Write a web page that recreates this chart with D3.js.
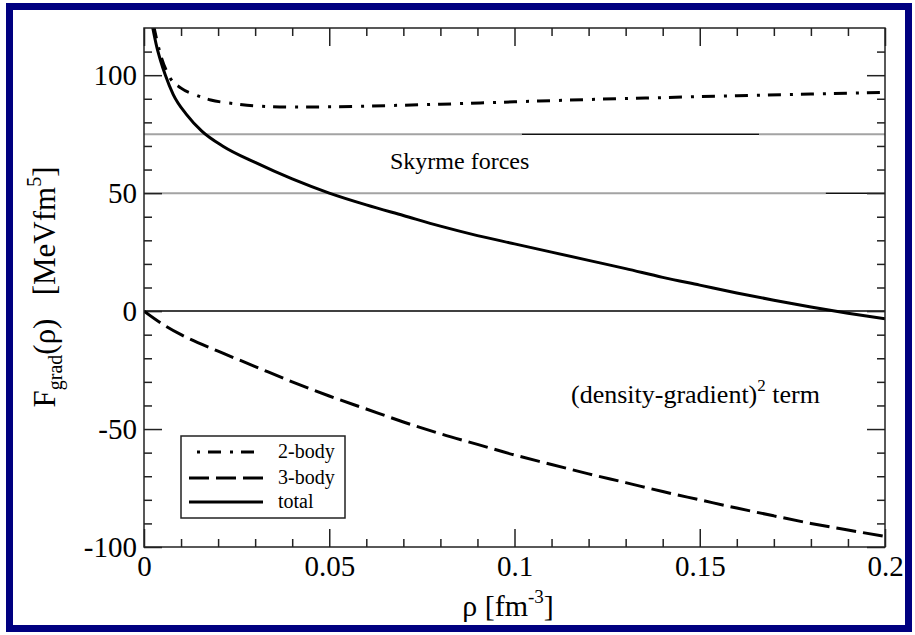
<!DOCTYPE html>
<html>
<head>
<meta charset="utf-8">
<script src="https://cdn.jsdelivr.net/npm/d3@7"></script>
<style>
  html, body { margin: 0; padding: 0; background: #fff; }
  svg { display: block; }
  svg text { font-family: "Liberation Serif", "Tinos", "Times New Roman", Times, "Nimbus Roman", "Nimbus Roman No9 L", FreeSerif, "DejaVu Serif", "Noto Serif", serif !important; fill: #000; }
</style>
</head>
<body>
<svg id="chart" width="915" height="635"></svg>
<script>
// ---------- data ----------
const rho2 = [0.0026, 0.0043, 0.007, 0.010, 0.014, 0.018, 0.024, 0.030, 0.040, 0.050, 0.060, 0.080, 0.100, 0.120, 0.140, 0.160, 0.180, 0.200];
const twoBody = [121, 109.6, 99, 94.5, 91.6, 89.5, 88, 87, 86.5, 86.6, 86.9, 87.7, 88.7, 89.7, 90.5, 91.3, 92.0, 92.7];

const rho3 = [0, 0.005, 0.010, 0.020, 0.030, 0.040, 0.050, 0.060, 0.070, 0.080, 0.090, 0.100, 0.110, 0.120, 0.130, 0.140, 0.150, 0.160, 0.170, 0.180, 0.190, 0.200];
const threeBody = [0, -5.5, -10, -17, -23.5, -30, -36, -41.5, -47, -52, -56.5, -61, -65, -69, -72.7, -76.5, -80, -83.5, -86.8, -90, -92.8, -95.5];

const rhoT = [0.00225, 0.0034, 0.0045, 0.0057, 0.0079, 0.0115, 0.0156, 0.0213, 0.030, 0.040, 0.050, 0.060, 0.070, 0.080, 0.090, 0.100, 0.110, 0.120, 0.130, 0.140, 0.150, 0.160, 0.170, 0.180, 0.190, 0.200];
const total = [121, 112.3, 106, 100.3, 91.8, 83.3, 76.3, 69.9, 63, 56, 50, 45, 40.5, 36, 32, 28.5, 25, 21.5, 18, 14.3, 11, 7.7, 4.6, 1.7, -0.9, -3.3];

// Skyrme-force reference levels (value, rho range, kind)
const skyrmeLevels = [75, 75, 75, 50, 50];
const skyrmeFrom   = [0, 0.102, 0.166, 0, 0.184];
const skyrmeTo     = [0.102, 0.166, 0.2, 0.184, 0.2];
const skyrmeKind   = ["gray", "black", "gray", "gray", "black"];

const xMajor = [0, 0.05, 0.1, 0.15, 0.2];
const xMinor = d3.range(1, 20).map(i => i / 100).filter(v => Math.abs(v * 20 - Math.round(v * 20)) > 1e-9);
const yMajor = [-100, -50, 0, 50, 100];
const yMinor = d3.range(-90, 121, 10).filter(v => v % 50 !== 0 && v < 120);

const legendLabels = ["2-body", "3-body", "total"];

// ---------- layout ----------
const FONT = '"Liberation Serif", Tinos, "Times New Roman", Times, "Nimbus Roman", FreeSerif, "DejaVu Serif", "Noto Serif", serif';
const svg = d3.select("#chart");
const L = 144, R = 885, T = 28, B = 547;
const x = d3.scaleLinear().domain([0, 0.2]).range([L, R]);
const y = d3.scaleLinear().domain([-100, 120]).range([B, T]);

// outer navy border
svg.append("rect").attr("x", 9.5).attr("y", 6.5).attr("width", 899).attr("height", 622)
  .attr("fill", "none").attr("stroke", "#000080").attr("stroke-width", 7);

svg.append("clipPath").attr("id", "plotclip").append("rect")
  .attr("x", L).attr("y", T).attr("width", R - L).attr("height", B - T);

// reference lines
const refG = svg.append("g");
refG.append("line").attr("x1", x(0)).attr("x2", x(0.2)).attr("y1", y(0)).attr("y2", y(0))
  .attr("stroke", "#000").attr("stroke-width", 1.5);
skyrmeLevels.forEach((v, i) => {
  refG.append("line")
    .attr("x1", x(skyrmeFrom[i])).attr("x2", x(skyrmeTo[i]))
    .attr("y1", y(v)).attr("y2", y(v))
    .attr("stroke", skyrmeKind[i] === "gray" ? "#a3a3a3" : "#111")
    .attr("stroke-width", skyrmeKind[i] === "gray" ? 2 : 1.5);
});

// axes (ticks inward on all four sides)
function styleAxis(g) {
  g.attr("font-family", FONT);
  g.select(".domain").remove();
  g.selectAll(".tick line").attr("stroke", "#222").attr("stroke-width", 1.5);
  g.selectAll("text").attr("font-family", FONT).attr("font-size", 29).attr("fill", "#000");
}
svg.append("g").attr("transform", `translate(0,${B})`)
  .call(d3.axisBottom(x).tickValues(xMajor).tickSize(-18).tickPadding(8).tickFormat(d => String(d)))
  .call(styleAxis)
  .selectAll("text").attr("dy", "0.71em");
svg.append("g").attr("transform", `translate(0,${B})`)
  .call(d3.axisBottom(x).tickValues(xMinor).tickSize(-8).tickFormat("")).call(styleAxis);
svg.append("g").attr("transform", `translate(0,${T})`)
  .call(d3.axisTop(x).tickValues(xMajor).tickSize(-18).tickFormat("")).call(styleAxis);
svg.append("g").attr("transform", `translate(0,${T})`)
  .call(d3.axisTop(x).tickValues(xMinor).tickSize(-8).tickFormat("")).call(styleAxis);

svg.append("g").attr("transform", `translate(${L},0)`)
  .call(d3.axisLeft(y).tickValues(yMajor).tickSize(-18).tickPadding(7).tickFormat(d => String(d)))
  .call(styleAxis);
svg.append("g").attr("transform", `translate(${L},0)`)
  .call(d3.axisLeft(y).tickValues(yMinor).tickSize(-8).tickFormat("")).call(styleAxis);
svg.append("g").attr("transform", `translate(${R},0)`)
  .call(d3.axisRight(y).tickValues(yMajor).tickSize(-18).tickFormat("")).call(styleAxis);
svg.append("g").attr("transform", `translate(${R},0)`)
  .call(d3.axisRight(y).tickValues(yMinor).tickSize(-8).tickFormat("")).call(styleAxis);

// curves
const line = d3.line().x(d => x(d[0])).y(d => y(d[1])).curve(d3.curveMonotoneX);
const curveG = svg.append("g").attr("clip-path", "url(#plotclip)");
const series = [
  { pts: d3.zip(rho2, twoBody), dash: "13,9,3,8" },
  { pts: d3.zip(rho3, threeBody), dash: "20,7" },
  { pts: d3.zip(rhoT, total), dash: null }
];
series.forEach(s => {
  curveG.append("path").attr("d", line(s.pts)).attr("fill", "none")
    .attr("stroke", "#000").attr("stroke-width", 3)
    .attr("stroke-dasharray", s.dash);
});

// frame
svg.append("rect").attr("x", L).attr("y", T).attr("width", R - L).attr("height", B - T)
  .attr("fill", "none").attr("stroke", "#222").attr("stroke-width", 1.5);

// annotations
svg.append("text").attr("x", 390).attr("y", 169).attr("font-family", FONT).attr("font-size", 24).text("Skyrme forces");
const ann = svg.append("text").attr("x", 571).attr("y", 403).attr("font-family", FONT).attr("font-size", 26);
ann.append("tspan").text("(density-gradient)");
ann.append("tspan").attr("font-size", 17).attr("dy", -12).text("2");
ann.append("tspan").attr("dy", 12).text("\u00a0term");

// axis titles
const xl = svg.append("text").attr("x", 508).attr("y", 616).attr("text-anchor", "middle")
  .attr("font-family", FONT).attr("font-size", 30);
xl.append("tspan").text("ρ\u00a0[fm");
xl.append("tspan").attr("font-size", 19).attr("dy", -13).text("-3");
xl.append("tspan").attr("dy", 13).text("]");

const yl = svg.append("text").attr("transform", "translate(55,287) rotate(-90)")
  .attr("text-anchor", "middle").attr("font-family", FONT).attr("font-size", 31);
yl.append("tspan").text("F");
yl.append("tspan").attr("font-size", 20).attr("dy", 7).text("grad");
yl.append("tspan").attr("dy", -7).text("(ρ)\u00a0\u00a0\u00a0[MeVfm");
yl.append("tspan").attr("font-size", 20).attr("dy", -14).text("5");
yl.append("tspan").attr("dy", 14).text("]");

// legend
const lg = svg.append("g");
lg.append("rect").attr("x", 181).attr("y", 436).attr("width", 164).attr("height", 82)
  .attr("fill", "#fff").attr("stroke", "#222").attr("stroke-width", 1.5);
const legY = [452, 478, 502];
legendLabels.forEach((lab, i) => {
  lg.append("line").attr("x1", 189).attr("x2", 263).attr("y1", legY[i]).attr("y2", legY[i])
    .attr("stroke", "#000").attr("stroke-width", 3).attr("stroke-dasharray", series[i].dash)
    .attr("stroke-dashoffset", i === 0 ? 14 : 0);
  lg.append("text").attr("x", 278).attr("y", legY[i] + 6).attr("font-family", FONT).attr("font-size", 20).text(lab);
});
</script>
</body>
</html>
